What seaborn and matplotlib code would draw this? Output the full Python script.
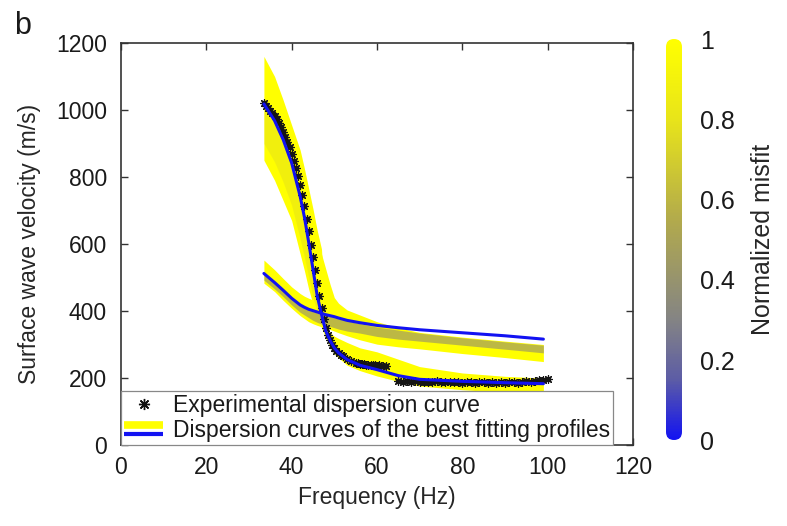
import seaborn as sns
import matplotlib.pyplot as plt
from matplotlib.colors import LinearSegmentedColormap, Normalize
from matplotlib.cm import ScalarMappable
from matplotlib.lines import Line2D
from matplotlib.legend_handler import HandlerBase
from matplotlib.patches import FancyBboxPatch

# frequency grid shared by all the model curves (Hz)
freq = [33.5, 36, 38, 40, 42, 43, 44, 45, 46, 47, 48, 49, 50, 51, 53, 56, 60, 65, 70, 80, 90, 99]

# fundamental mode: best fit and the envelope of the accepted profiles (m/s)
fund_best = [1018, 968, 912, 842, 742, 680, 605, 525, 445, 390, 340, 312, 290, 275, 255, 238, 225, 207, 196, 190, 186, 183]
fund_upper = [1160, 1100, 1030, 955, 880, 825, 765, 705, 640, 585, 350, 335, 325, 318, 306, 290, 278, 256, 234, 215, 205, 200]
fund_lower = [850, 790, 730, 670, 570, 520, 465, 420, 380, 350, 320, 295, 272, 260, 238, 222, 206, 190, 176, 165, 157, 150]
fund_mid_hi = [1000, 955, 895, 822, 725, 662, 590, 510, 430, 380, 335, 305, 288, 273, 253, 236, 223, 205, 194, 188, 184, 181]
fund_mid_lo = [900, 845, 785, 715, 615, 560, 500, 440, 395, 365, 330, 303, 285, 271, 250, 233, 220, 202, 191, 185, 181, 178]

# first higher mode
high_best = [512, 485, 462, 438, 418, 411, 405, 401, 397, 393, 389, 386, 383, 379, 372, 365, 357, 350, 344, 335, 326, 316]
high_upper = [552, 523, 497, 472, 452, 444, 438, 433, 440, 570, 525, 480, 440, 423, 403, 388, 368, 350, 336, 322, 310, 300]
high_lower = [483, 458, 432, 408, 386, 377, 368, 362, 357, 353, 349, 345, 340, 335, 326, 314, 301, 293, 287, 273, 261, 249]
high_mid_hi = [508, 482, 459, 435, 415, 408, 402, 398, 394, 390, 386, 384, 380, 376, 370, 362, 352, 343, 334, 320, 308, 298]
high_mid_lo = [492, 466, 443, 418, 396, 388, 380, 372, 366, 361, 356, 354, 350, 346, 340, 334, 324, 316, 310, 298, 286, 275]

# experimental dispersion curve
star_f = [33.5, 34.0, 34.5, 35.0, 35.5, 36.0, 36.5, 37.0, 37.5, 38.0, 38.5, 39.0, 39.5, 40.0,
          40.5, 41.0, 41.5, 42.0, 42.5, 43.0, 43.5, 44.0, 44.5, 45.0, 45.5, 46.0, 46.5, 47.0,
          47.5, 48.0, 48.5, 49.0, 49.5, 50.0, 50.5, 51.0, 51.5, 52.0, 53.0, 54.0,
          55.0, 55.5, 56.0, 56.5, 57.0, 57.5, 58.0, 58.5, 59.0, 59.5, 60.0, 60.5, 61.0, 61.5, 62.0,
          65, 66, 67, 68, 69, 70, 71, 72, 73, 74, 75, 76, 77, 78, 79, 80, 81, 82, 83, 84,
          85, 86, 87, 88, 89, 90, 91, 92, 93, 94, 95, 96, 97, 98, 99, 100]
star_v = [1020, 1013, 1006, 998, 990, 982, 973, 962, 950, 935, 920, 905, 888, 868,
          848, 826, 802, 776, 746, 712, 676, 638, 598, 560, 522, 484, 446, 410,
          376, 348, 328, 312, 299, 290, 282, 275, 270, 266, 258, 252,
          246, 244, 243, 241, 242, 240, 239, 240, 238, 239, 237, 238, 236, 237, 236,
          190, 189, 191, 188, 190, 189, 187, 189, 188, 190, 187, 188, 189, 187, 188, 186,
          188, 187, 186, 188, 187, 185, 187, 186, 188, 186, 187, 188, 186, 189, 190, 189,
          191, 193, 195, 197]

cbar_ticks = [0, 0.2, 0.4, 0.6, 0.8, 1]
cbar_labels = ["0", "0.2", "0.4", "0.6", "0.8", "1"]

misfit_cmap = LinearSegmentedColormap.from_list("misfit", [
    (0.0, "#1212f2"), (0.15, "#5c5ca6"), (0.3, "#848484"),
    (0.55, "#b2aa4c"), (0.8, "#e8e41a"), (1.0, "#ffff00")])


class StackedLines(HandlerBase):
    # yellow band over a blue line, as in the legend of the figure
    def create_artists(self, legend, orig_handle, xdescent, ydescent,
                       width, height, fontsize, trans):
        x = [-xdescent, -xdescent + width]
        top = Line2D(x, [height * 0.72 - ydescent] * 2, color=misfit_cmap(1.0),
                     lw=5.5, solid_capstyle="butt", transform=trans)
        bot = Line2D(x, [height * 0.18 - ydescent] * 2, color=misfit_cmap(0.0),
                     lw=3, solid_capstyle="butt", transform=trans)
        return [top, bot]


class BandKey:
    pass


sns.set_style("ticks")
plt.rcParams["font.family"] = ["Liberation Sans", "DejaVu Sans"]
plt.rcParams["text.color"] = "#1a1a1a"

fig = plt.figure(figsize=(7.87, 5.26), dpi=100)
ax = fig.add_axes([0.1537, 0.154, 0.6506, 0.7643])

yellow = misfit_cmap(1.0)
ax.fill_between(freq, fund_lower, fund_upper, color=yellow, lw=0, zorder=1)
ax.fill_between(freq, high_lower, high_upper, color=yellow, lw=0, zorder=1)
ax.fill_between(freq, fund_mid_lo, fund_mid_hi, color=misfit_cmap(0.75), alpha=0.4, lw=0, zorder=2)
ax.fill_between(freq, high_mid_lo, high_mid_hi, color=misfit_cmap(0.45), alpha=0.7, lw=0, zorder=2)

blue = misfit_cmap(0.0)
sns.scatterplot(x=star_f, y=star_v, marker=(8, 2, 0), s=30, color="#151515",
                linewidth=0.9, ax=ax, zorder=3)
sns.lineplot(x=freq, y=fund_best, color=blue, lw=2.2, ax=ax, sort=False, estimator=None, zorder=4)
sns.lineplot(x=freq, y=high_best, color=blue, lw=2.2, ax=ax, sort=False, estimator=None, zorder=4)

ax.set_xlim(0, 120)
ax.set_ylim(0, 1200)
ax.set_xticks(range(0, 121, 20))
ax.set_yticks(range(0, 1201, 200))
ax.tick_params(direction="in", top=True, right=True, length=5, width=1,
               labelsize=16.5, colors="#333333", labelcolor="#1a1a1a")
ax.tick_params(axis="y", pad=10)
ax.tick_params(axis="x", pad=8)
for sp in ax.spines.values():
    sp.set_color("#333333")
    sp.set_linewidth(1.2)
ax.set_xlabel("Frequency (Hz)", fontsize=16.5, labelpad=5)
ax.set_ylabel("Surface wave velocity (m/s)", fontsize=16.5, labelpad=11)

star_key = Line2D([], [], marker=(8, 2, 0), ls="none", color="#111111", ms=8, mew=1)
leg = ax.legend([star_key, BandKey()],
                ["Experimental dispersion curve",
                 "Dispersion curves of the best fitting profiles"],
                handler_map={BandKey: StackedLines()},
                loc="lower left", bbox_to_anchor=(0, 0), borderaxespad=0,
                fontsize=16.5, frameon=True, fancybox=False, framealpha=1,
                edgecolor="#888888", handlelength=1.7, handletextpad=0.4,
                borderpad=0.15, labelspacing=0.05)
leg.get_frame().set_linewidth(0.9)
leg.set_zorder(5)

cax = fig.add_axes([0.846, 0.163, 0.0203, 0.762])
cb = fig.colorbar(ScalarMappable(norm=Normalize(0, 1), cmap=misfit_cmap), cax=cax)
cb.outline.set_visible(False)
cb.set_ticks(cbar_ticks)
cb.set_ticklabels(cbar_labels)
cax.tick_params(length=0, labelsize=18, pad=13, labelcolor="#1a1a1a")
cb.set_label("Normalized misfit", fontsize=18, labelpad=12)
w_px = 0.0203 * 787
h_px = 0.762 * 526
cap = FancyBboxPatch((0, 0), 1, 1, boxstyle="round,pad=0,rounding_size=0.5",
                     mutation_aspect=w_px / h_px, transform=cax.transAxes)
cb.solids.set_clip_path(cap)

fig.text(0.018, 0.935, "b", fontsize=22)

fig.savefig("out.png", dpi=100)
